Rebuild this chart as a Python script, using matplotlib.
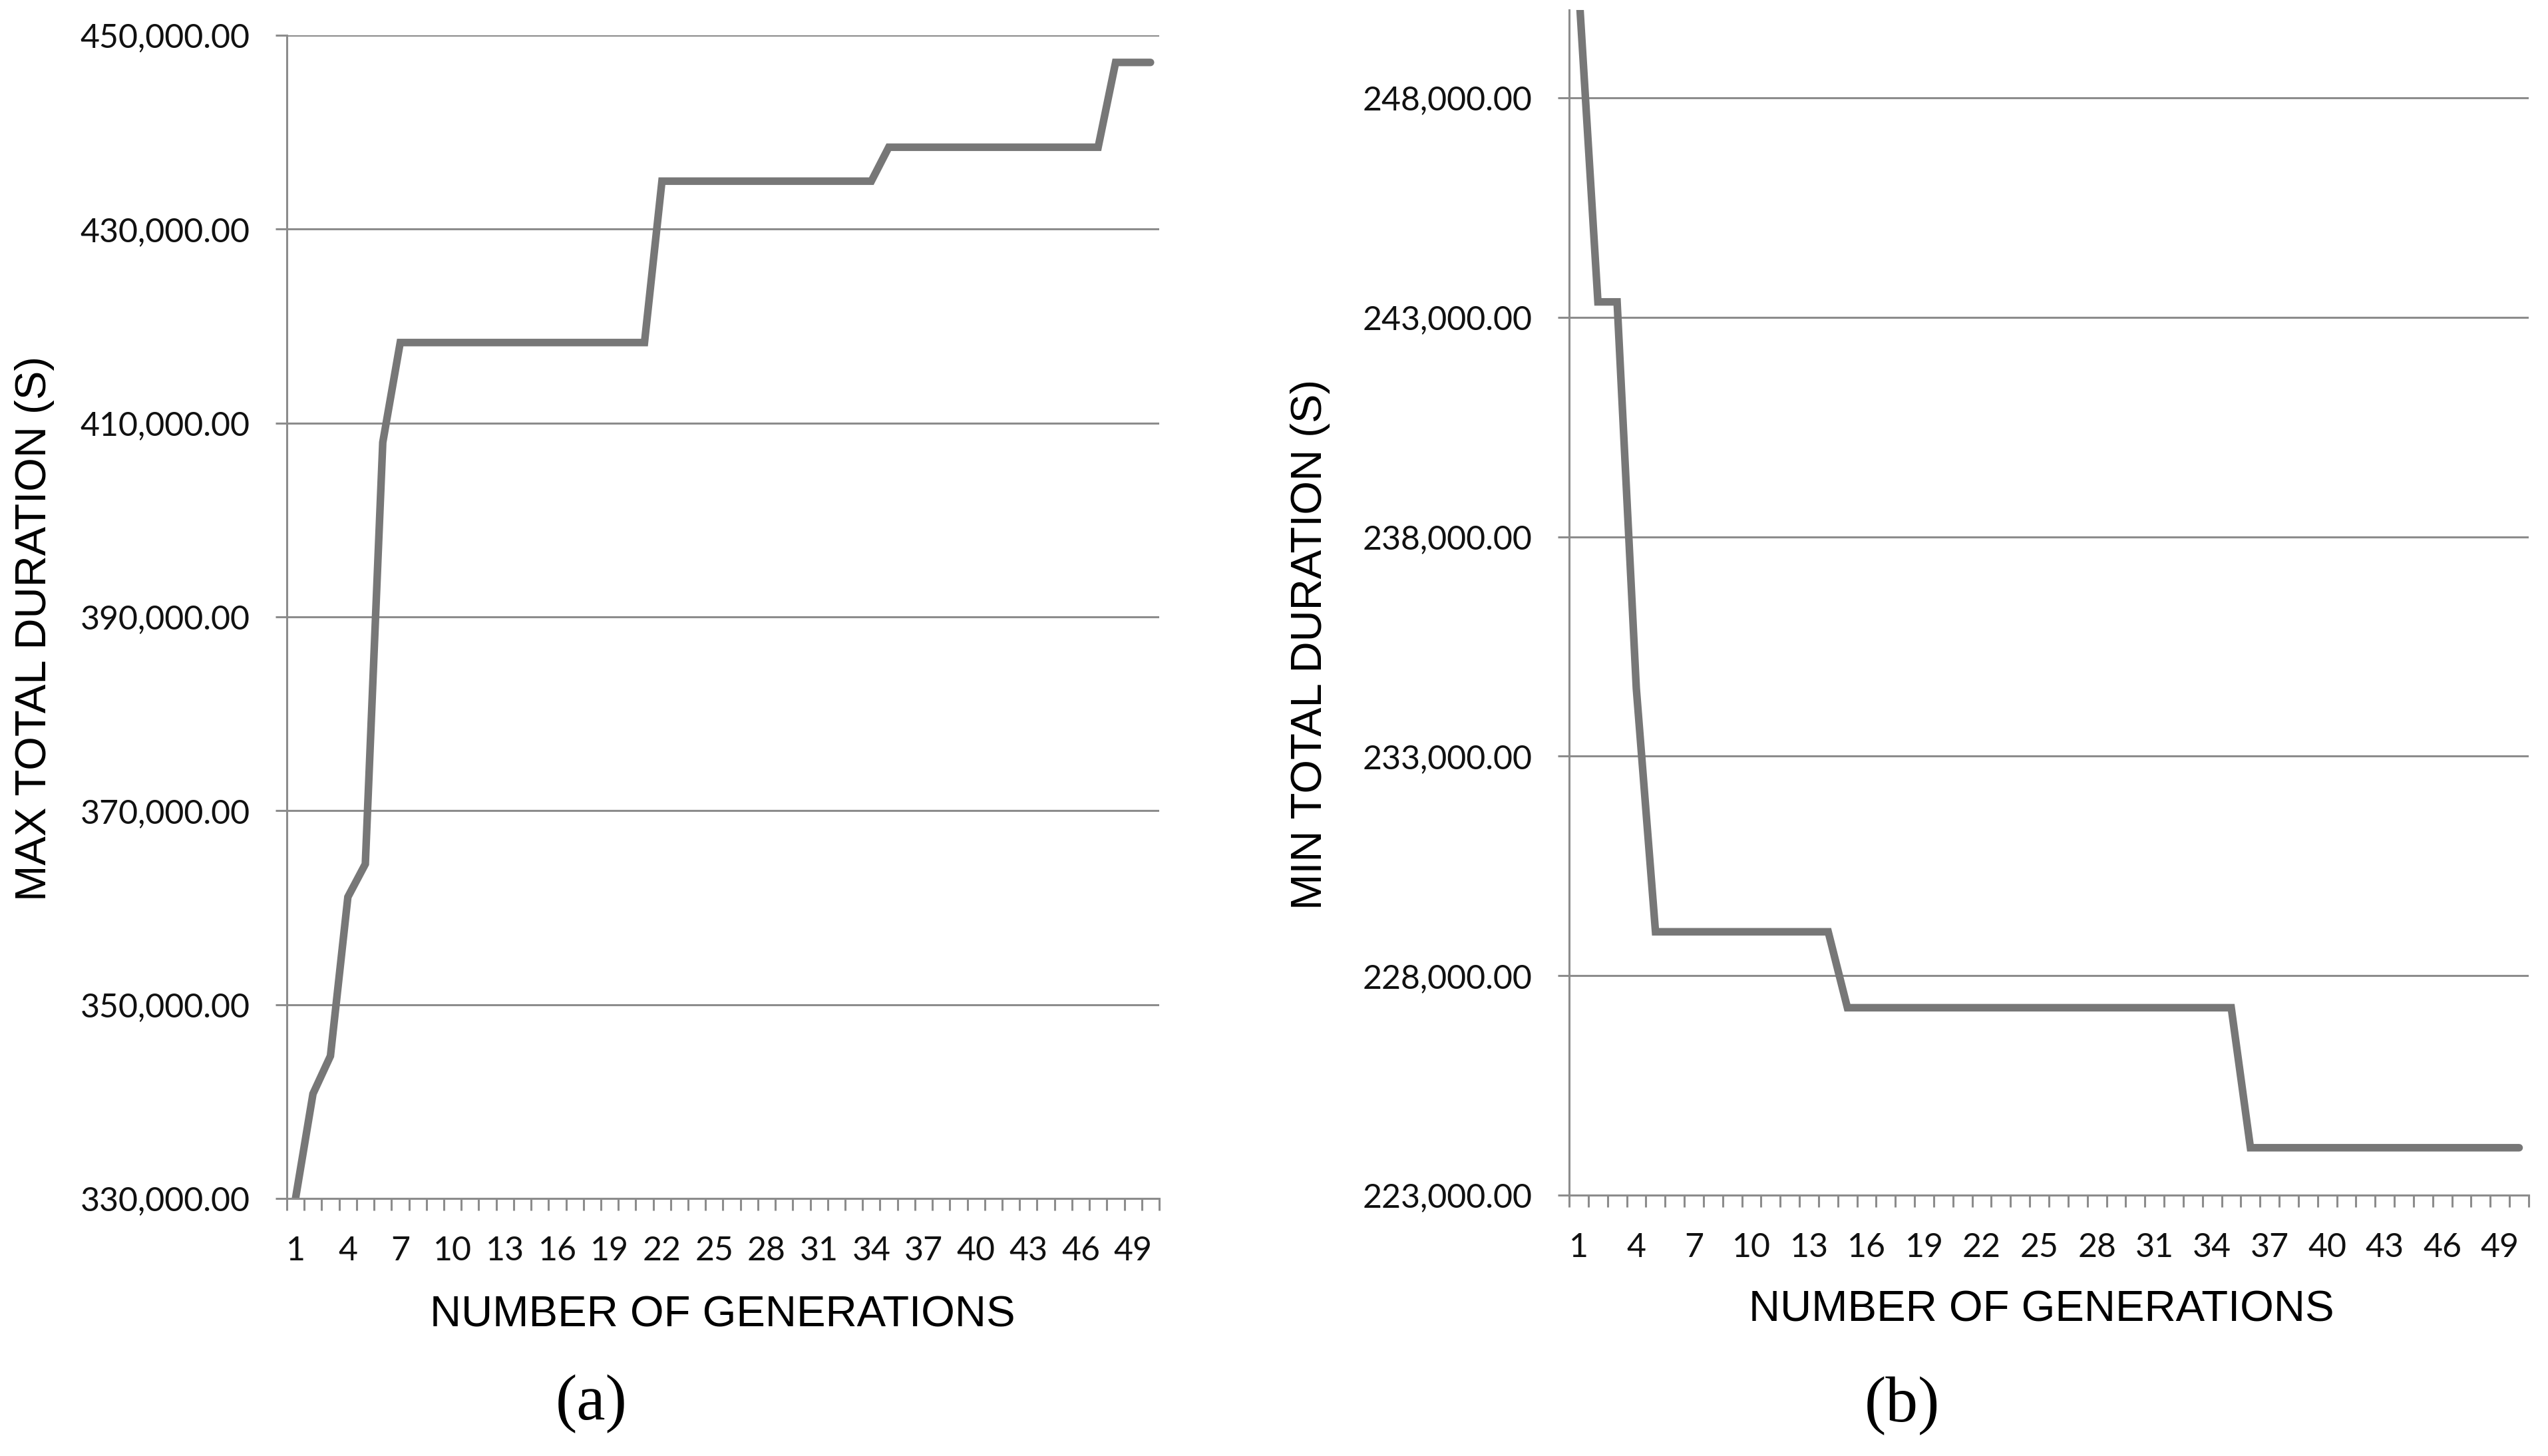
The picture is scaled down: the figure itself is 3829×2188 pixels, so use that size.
import matplotlib
matplotlib.use("Agg")
import matplotlib.pyplot as plt

W, H = 3830, 2188

generations = [1, 2, 3, 4, 5, 6, 7, 8, 9, 10,
               11, 12, 13, 14, 15, 16, 17, 18, 19, 20,
               21, 22, 23, 24, 25, 26, 27, 28, 29, 30,
               31, 32, 33, 34, 35, 36, 37, 38, 39, 40,
               41, 42, 43, 44, 45, 46, 47, 48, 49, 50]

max_duration = [330000, 340800, 344700, 361100, 364500, 408000, 418300, 418300, 418300, 418300,
                418300, 418300, 418300, 418300, 418300, 418300, 418300, 418300, 418300, 418300,
                418300, 434950, 434950, 434950, 434950, 434950, 434950, 434950, 434950, 434950,
                434950, 434950, 434950, 434950, 438450, 438450, 438450, 438450, 438450, 438450,
                438450, 438450, 438450, 438450, 438450, 438450, 438450, 447200, 447200, 447200]

min_duration = [250500, 243350, 243350, 234550, 229000, 229000, 229000, 229000, 229000, 229000,
                229000, 229000, 229000, 229000, 227270, 227270, 227270, 227270, 227270, 227270,
                227270, 227270, 227270, 227270, 227270, 227270, 227270, 227270, 227270, 227270,
                227270, 227270, 227270, 227270, 227270, 224080, 224080, 224080, 224080, 224080,
                224080, 224080, 224080, 224080, 224080, 224080, 224080, 224080, 224080, 224080]

xtick_labels = ["1", "4", "7", "10", "13", "16", "19", "22", "25", "28",
                "31", "34", "37", "40", "43", "46", "49"]
max_yticks = [330000, 350000, 370000, 390000, 410000, 430000, 450000]
min_yticks = [223000, 228000, 233000, 238000, 243000, 248000]

LINE = "#777777"
GRID = "#8c8c8c"
TICK_FONT = "Lato"
LABEL_FONT = "Liberation Sans"


def px_axes(left, top, right, bottom):
    return [left / W, 1 - bottom / H, (right - left) / W, (bottom - top) / H]


def style_axis(ax, values, yticks, ylim):
    ax.plot(generations, values, color=LINE, lw=8.2, solid_capstyle="round",
            solid_joinstyle="miter")
    ax.set_xlim(0.5, 50.5)
    ax.set_ylim(*ylim)
    ax.set_yticks(yticks, labels=[f"{v:,.2f}" for v in yticks])
    ax.yaxis.grid(True, color=GRID, lw=2.2)
    ax.set_axisbelow(True)
    # tick marks between categories, labels on every third category
    ax.set_xticks([g - 0.5 for g in generations] + [50.5])
    ax.set_xticklabels([])
    ax.set_xticks([int(t) for t in xtick_labels], labels=xtick_labels, minor=True)
    ax.tick_params(axis="x", which="major", length=13, width=2.2, color=GRID, direction="out")
    ax.tick_params(axis="x", which="minor", length=0, pad=40, labelsize=36)
    ax.tick_params(axis="y", length=12, width=2.2, color=GRID, direction="out",
                   pad=28, labelsize=36)
    for lab in ax.get_xticklabels(minor=True) + ax.get_yticklabels():
        lab.set_fontfamily(TICK_FONT)
        lab.set_color("#111111")
    for side in ("top", "right"):
        ax.spines[side].set_visible(False)
    for side in ("left", "bottom"):
        ax.spines[side].set_color(GRID)
        ax.spines[side].set_linewidth(2.2)


def fig_text(x, y, s, **kw):
    fig.text(x / W, 1 - y / H, s, ha="center", va="center", **kw)


fig = plt.figure(figsize=(W / 100, H / 100), dpi=100)

ax1 = fig.add_axes(px_axes(431, 53, 1742, 1801))
style_axis(ax1, max_duration, max_yticks, (330000, 450000))

ax2 = fig.add_axes(px_axes(2358, 15, 3800, 1796))
style_axis(ax2, min_duration, min_yticks, (223000, 250000))

fig_text(52, 944, "MAX TOTAL DURATION (S)", rotation=90, fontsize=47, family=LABEL_FONT)
fig_text(1086, 1976, "NUMBER OF GENERATIONS", fontsize=47, family=LABEL_FONT)
fig_text(1969, 968, "MIN TOTAL DURATION (S)", rotation=90, fontsize=47, family=LABEL_FONT)
fig_text(3068, 1968, "NUMBER OF GENERATIONS", fontsize=47, family=LABEL_FONT)
fig_text(889, 2110, "(a)", fontsize=70, family="Liberation Serif")
fig_text(2858, 2113, "(b)", fontsize=70, family="Liberation Serif")

fig.savefig("out.png", dpi=100)
